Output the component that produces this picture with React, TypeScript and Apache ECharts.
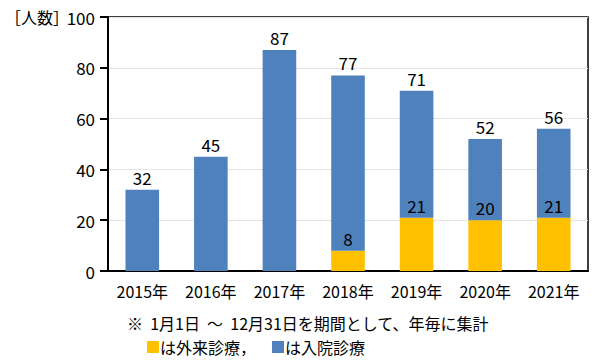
import React, { useEffect, useRef } from "react";
import * as echarts from "echarts";

const years = ["2015年", "2016年", "2017年", "2018年", "2019年", "2020年", "2021年"];
const inpatient = [32, 45, 87, 69, 50, 32, 35];
const outpatient = [0, 0, 0, 8, 21, 20, 21];
const yTicks = [0, 20, 40, 60, 80, 100];

const FONT = "'Noto Sans CJK JP', 'Noto Sans', sans-serif";
const BLUE = "#4F81BD";
const YELLOW = "#FFC000";

export default function App() {
  const ref = useRef<HTMLDivElement>(null);
  useEffect(() => {
    const chart = echarts.init(ref.current!, undefined, { renderer: "svg" });
    const totals = inpatient.map((v, i) => v + outpatient[i]);
    const note = (text: string, x: number, y: number) => ({
      type: "text",
      x,
      y,
      style: { text, fontSize: 16, lineHeight: 16, fontFamily: FONT, fill: "#000", verticalAlign: "middle", align: "left" },
    });
    chart.setOption({
      animation: false,
      textStyle: { fontFamily: FONT },
      grid: {
        left: 108,
        right: 12,
        top: 17,
        bottom: 89,
        show: true,
        borderColor: "#000",
        borderWidth: 1.5,
        backgroundColor: "transparent",
      },
      xAxis: {
        type: "category",
        data: years,
        axisLine: { lineStyle: { color: "#000", width: 2 } },
        axisTick: { show: false },
        axisLabel: { color: "#000", fontSize: 16, fontFamily: FONT, margin: 12 },
      },
      yAxis: {
        type: "value",
        min: yTicks[0],
        max: yTicks[yTicks.length - 1],
        interval: 20,
        axisLine: { show: true, lineStyle: { color: "#000", width: 2 } },
        axisTick: { show: true, inside: false, length: 8, lineStyle: { color: "#000", width: 2 } },
        axisLabel: { color: "#000", fontSize: 17, fontFamily: FONT, margin: 13 },
        splitLine: { lineStyle: { color: "#e4e4e4", width: 1 } },
      },
      series: [
        {
          name: "外来診療",
          type: "bar",
          stack: "total",
          barWidth: "49%",
          data: outpatient,
          itemStyle: { color: YELLOW },
          label: {
            show: true,
            position: "top",
            distance: 4,
            color: "#000",
            fontSize: 17,
            fontFamily: FONT,
            formatter: (p: any) => (p.value > 0 ? String(p.value) : ""),
          },
        },
        {
          name: "入院診療",
          type: "bar",
          stack: "total",
          data: inpatient,
          itemStyle: { color: BLUE },
          label: {
            show: true,
            position: "top",
            distance: 4,
            color: "#000",
            fontSize: 17,
            fontFamily: FONT,
            formatter: (p: any) => String(totals[p.dataIndex]),
          },
        },
      ],
      graphic: [
        note("［人数］", 5, 17),
        note("※  1月1日  〜  12月31日を期間として、年毎に集計", 127, 323),
        { type: "rect", shape: { x: 147, y: 341, width: 12, height: 12 }, style: { fill: YELLOW } },
        note("は外来診療，", 160, 347),
        { type: "rect", shape: { x: 272, y: 341, width: 12, height: 12 }, style: { fill: BLUE } },
        note("は入院診療", 285, 347),
      ],
    });
    return () => chart.dispose();
  }, []);
  return (
    <div
      ref={ref}
      style={{ position: "absolute", left: 0, top: 0, width: 600, height: 360, overflow: "hidden" }}
    />
  );
}
